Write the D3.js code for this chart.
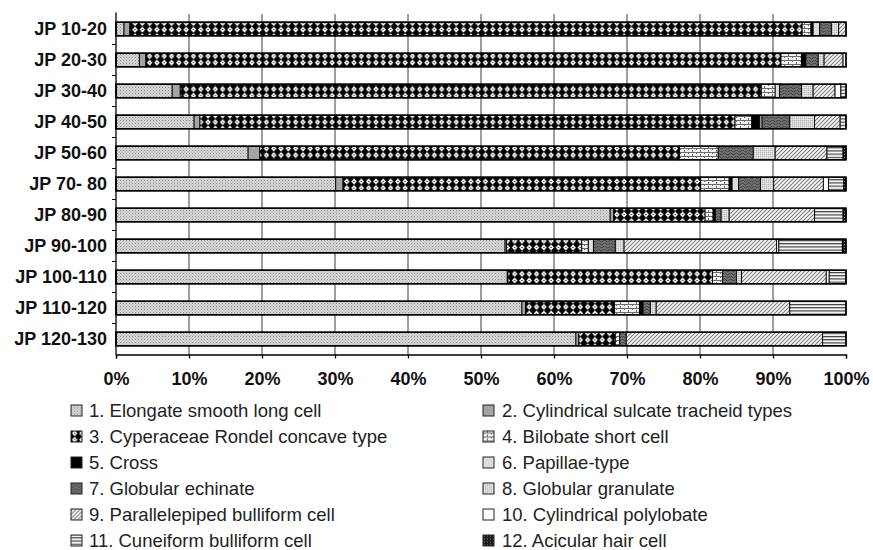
<!DOCTYPE html>
<html>
  <head>
    <meta charset="utf-8">
    <title>Phytolith assemblages by depth</title>
    <script src="https://cdn.jsdelivr.net/npm/d3@7"></script>
    <style>
      body { margin: 0; background: #fff; }
      svg { display: block; font-family: "Liberation Sans", Arial, sans-serif; }
      .axis text { font-size: 18px; font-weight: bold; fill: #111; }
      .legend text { font-size: 18.5px; fill: #222; }
    </style>
  </head>

  <body>
    <svg id="chart" width="873" height="550"></svg>

    <script>
      // samples (top to bottom)
      samples = ["JP 10-20", "JP 20-30", "JP 30-40", "JP 40-50", "JP 50-60", "JP 70- 80",
        "JP 80-90", "JP 90-100", "JP 100-110", "JP 110-120", "JP 120-130"];

      // phytolith types
      types = ["1. Elongate smooth long cell", "2. Cylindrical sulcate tracheid types",
        "3. Cyperaceae Rondel concave type", "4. Bilobate short cell", "5. Cross",
        "6. Papillae-type", "7. Globular echinate", "8. Globular granulate",
        "9. Parallelepiped bulliform cell", "10. Cylindrical polylobate",
        "11. Cuneiform bulliform cell", "12. Acicular hair cell"];

      // percentages per type, one value per sample
      elongate = [1.1, 3.2, 7.7, 10.7, 18.1, 30.1, 67.7, 53.3, 53.6, 55.6, 63.0];
      sulcate = [0.8, 0.9, 1.1, 0.8, 1.6, 1.0, 0.5, 0.2, 0.1, 0.5, 0.4];
      rondel = [92.1, 87.0, 79.6, 73.3, 57.5, 49.0, 12.5, 10.3, 28.0, 12.2, 5.0];
      bilobate = [1.2, 2.8, 1.9, 2.3, 5.3, 3.9, 1.1, 0.9, 1.4, 3.4, 0.6];
      cross = [0.3, 0.6, 0, 1.1, 0, 0.4, 0.3, 0, 0, 0.5, 0];
      papillae = [0.9, 0, 0.6, 0.3, 0, 0.9, 0, 0.7, 0, 0, 0];
      echinate = [1.6, 1.7, 3.0, 3.8, 4.8, 3.0, 0.8, 3.0, 1.9, 1.0, 0.9];
      granulate = [1.0, 0.8, 1.6, 3.4, 3.0, 1.8, 1.1, 1.2, 0.7, 0.8, 0];
      parallelepiped = [1.0, 2.6, 3.0, 3.5, 7.1, 6.8, 11.7, 20.9, 11.6, 18.3, 26.9];
      polylobate = [0, 0.4, 0.8, 0, 0, 0.7, 0, 0.3, 0.4, 0, 0];
      cuneiform = [0, 0, 0.7, 0.8, 2.2, 2.1, 3.9, 8.7, 2.3, 7.7, 3.2];
      acicular = [0, 0, 0, 0, 0.4, 0.3, 0.4, 0.5, 0, 0, 0];

      series = [elongate, sulcate, rondel, bilobate, cross, papillae,
        echinate, granulate, parallelepiped, polylobate, cuneiform, acicular];

      xTicks = [0, 10, 20, 30, 40, 50, 60, 70, 80, 90, 100];

      // table for the stack layout
      table = samples.map(function(s, i) {
        let row = {sample: s};
        types.forEach(function(t, j) { row[t] = series[j][i]; });
        return row;
      });
      stacked = d3.stack().keys(types)(table);

      svg = d3.select("#chart");
      defs = svg.append("defs");

      // grey fill patterns, one per type
      function pattern(id, w, h, draw) {
        let p = defs.append("pattern")
          .attr("id", id)
          .attr("patternUnits", "userSpaceOnUse")
          .attr("width", w)
          .attr("height", h);
        draw(p);
      }
      pattern("p0", 3, 3, function(p) {
        p.append("rect").attr("width", 3).attr("height", 3).attr("fill", "#d6d6d6");
        p.append("rect").attr("width", 1).attr("height", 1).attr("fill", "#8c8c8c");
        p.append("rect").attr("x", 1.5).attr("y", 1.5).attr("width", 1).attr("height", 1).attr("fill", "#a8a8a8");
      });
      pattern("p1", 4, 4, function(p) {
        p.append("rect").attr("width", 4).attr("height", 4).attr("fill", "#a4a4a4");
      });
      pattern("p2", 7.3, 6.6, function(p) {
        p.append("rect").attr("width", 7.3).attr("height", 6.6).attr("fill", "#000");
        p.append("path").attr("d", "M3.65,0.2 L6.4,3.3 L3.65,6.4 L0.9,3.3Z").attr("fill", "#fff");
        p.append("rect").attr("x", 3.1).attr("y", 2.8).attr("width", 1.1).attr("height", 1).attr("fill", "#000");
      });
      pattern("p3", 8, 4, function(p) {
        p.append("rect").attr("width", 8).attr("height", 4).attr("fill", "#f2f2f2");
        p.append("rect").attr("y", 0).attr("width", 8).attr("height", 1).attr("fill", "#6c6c6c");
        p.append("rect").attr("x", 0).attr("y", 0).attr("width", 1).attr("height", 2).attr("fill", "#6c6c6c");
        p.append("rect").attr("x", 4).attr("y", 2).attr("width", 1).attr("height", 2).attr("fill", "#6c6c6c");
      });
      pattern("p4", 4, 4, function(p) {
        p.append("rect").attr("width", 4).attr("height", 4).attr("fill", "#000");
      });
      pattern("p5", 4, 4, function(p) {
        p.append("rect").attr("width", 4).attr("height", 4).attr("fill", "#dcdcdc");
      });
      pattern("p6", 6, 6, function(p) {
        p.append("rect").attr("width", 6).attr("height", 6).attr("fill", "#747474");
        p.append("path").attr("d", "M0,1 Q1.5,3 3,1 T6,1 M0,4 Q1.5,6 3,4 T6,4")
          .attr("fill", "none").attr("stroke", "#3c3c3c").attr("stroke-width", 1);
      });
      pattern("p7", 2, 2, function(p) {
        p.append("rect").attr("width", 2).attr("height", 2).attr("fill", "#d8d8d8");
        p.append("rect").attr("width", 1).attr("height", 1).attr("fill", "#b4b4b4");
        p.append("rect").attr("x", 1).attr("y", 1).attr("width", 1).attr("height", 1).attr("fill", "#ececec");
      });
      pattern("p8", 4, 4, function(p) {
        p.append("rect").attr("width", 4).attr("height", 4).attr("fill", "#fafafa");
        p.append("path").attr("d", "M-1,5 L5,-1 M-1,1 L1,-1 M3,5 L5,3")
          .attr("stroke", "#7a7a7a").attr("stroke-width", 1.1);
      });
      pattern("p9", 4, 4, function(p) {
        p.append("rect").attr("width", 4).attr("height", 4).attr("fill", "#fff");
      });
      pattern("p10", 4, 3.2, function(p) {
        p.append("rect").attr("width", 4).attr("height", 3.2).attr("fill", "#f4f4f4");
        p.append("rect").attr("y", 0).attr("width", 4).attr("height", 1.1).attr("fill", "#3a3a3a");
      });
      pattern("p11", 3, 3, function(p) {
        p.append("rect").attr("width", 3).attr("height", 3).attr("fill", "#1a1a1a");
        p.append("rect").attr("x", 1).attr("y", 1).attr("width", 1).attr("height", 1).attr("fill", "#888");
      });

      // scales
      x = d3.scaleLinear()
        .domain([0, 100])
        .range([116, 846]);
      y = d3.scaleBand()
        .domain(samples)
        .range([13.5, 354.5])
        .paddingInner(0.56)
        .paddingOuter(0.28);

      // vertical grid
      svg.append("g")
        .selectAll("line")
        .data(xTicks.filter(function(d) { return d > 0 && d < 100; }))
        .enter().append("line")
          .attr("x1", function(d) { return x(d); })
          .attr("x2", function(d) { return x(d); })
          .attr("y1", 14)
          .attr("y2", 354.5)
          .attr("stroke", "#3c3c3c")
          .attr("stroke-width", 1);

      // stacked bars
      layers = svg.append("g")
        .selectAll("g")
        .data(stacked)
        .enter().append("g")
          .attr("fill", function(d, i) { return "url(#p" + i + ")"; });
      layers.selectAll("rect")
        .data(function(d) { return d.filter(function(v) { return v[1] - v[0] > 0; }); })
        .enter().append("rect")
          .attr("x", function(d) { return x(d[0]); })
          .attr("width", function(d) { return x(d[1]) - x(d[0]); })
          .attr("y", function(d) { return y(d.data.sample); })
          .attr("height", y.bandwidth())
          .attr("stroke", "#000")
          .attr("stroke-width", 0.9);

      // bar outlines
      svg.append("g")
        .selectAll("rect")
        .data(table)
        .enter().append("rect")
          .attr("x", x(0))
          .attr("width", x(100) - x(0))
          .attr("y", function(d) { return y(d.sample); })
          .attr("height", y.bandwidth())
          .attr("fill", "none")
          .attr("stroke", "#000")
          .attr("stroke-width", 1.6);

      // axes
      xAxis = svg.append("g")
        .attr("class", "axis")
        .attr("transform", "translate(0,354.5)")
        .call(d3.axisBottom(x)
          .tickValues(xTicks)
          .tickSize(4)
          .tickPadding(9)
          .tickFormat(function(d) { return d + "%"; }));
      yAxis = svg.append("g")
        .attr("class", "axis")
        .attr("transform", "translate(116,0)")
        .call(d3.axisLeft(y).tickSize(0).tickPadding(9));
      yAxis.select(".domain").attr("d", "M0,12.5V354.5");
      // small ticks between the bands
      yAxis.selectAll(".sep")
        .data(samples.slice(1))
        .enter().append("line")
          .attr("class", "sep")
          .attr("x1", -4)
          .attr("x2", 0)
          .attr("y1", function(d) { return y(d) - y.step() * 0.28; })
          .attr("y2", function(d) { return y(d) - y.step() * 0.28; })
          .attr("stroke", "#000");
      svg.selectAll(".axis .domain, .axis .tick line")
        .attr("stroke", "#000")
        .attr("stroke-width", 1.3);
      xAxis.selectAll("text").attr("dy", "0.95em");

      // legend, two columns
      legend = svg.append("g")
        .attr("class", "legend")
        .selectAll("g")
        .data(types)
        .enter().append("g")
          .attr("transform", function(d, i) {
            let col = i % 2, row = Math.floor(i / 2);
            return "translate(" + (col ? 483 : 71) + "," + (410.5 + row * 26) + ")";
          });
      legend.append("rect")
        .attr("x", 0)
        .attr("y", -5.5)
        .attr("width", 11)
        .attr("height", 11)
        .attr("fill", function(d, i) { return "url(#p" + i + ")"; })
        .attr("stroke", "#222")
        .attr("stroke-width", 1);
      legend.append("text")
        .attr("x", function(d, i) { return i % 2 ? 19 : 18; })
        .attr("y", 0)
        .attr("dy", "0.36em")
        .text(function(d) { return d; });
    </script>
  </body>
</html>
